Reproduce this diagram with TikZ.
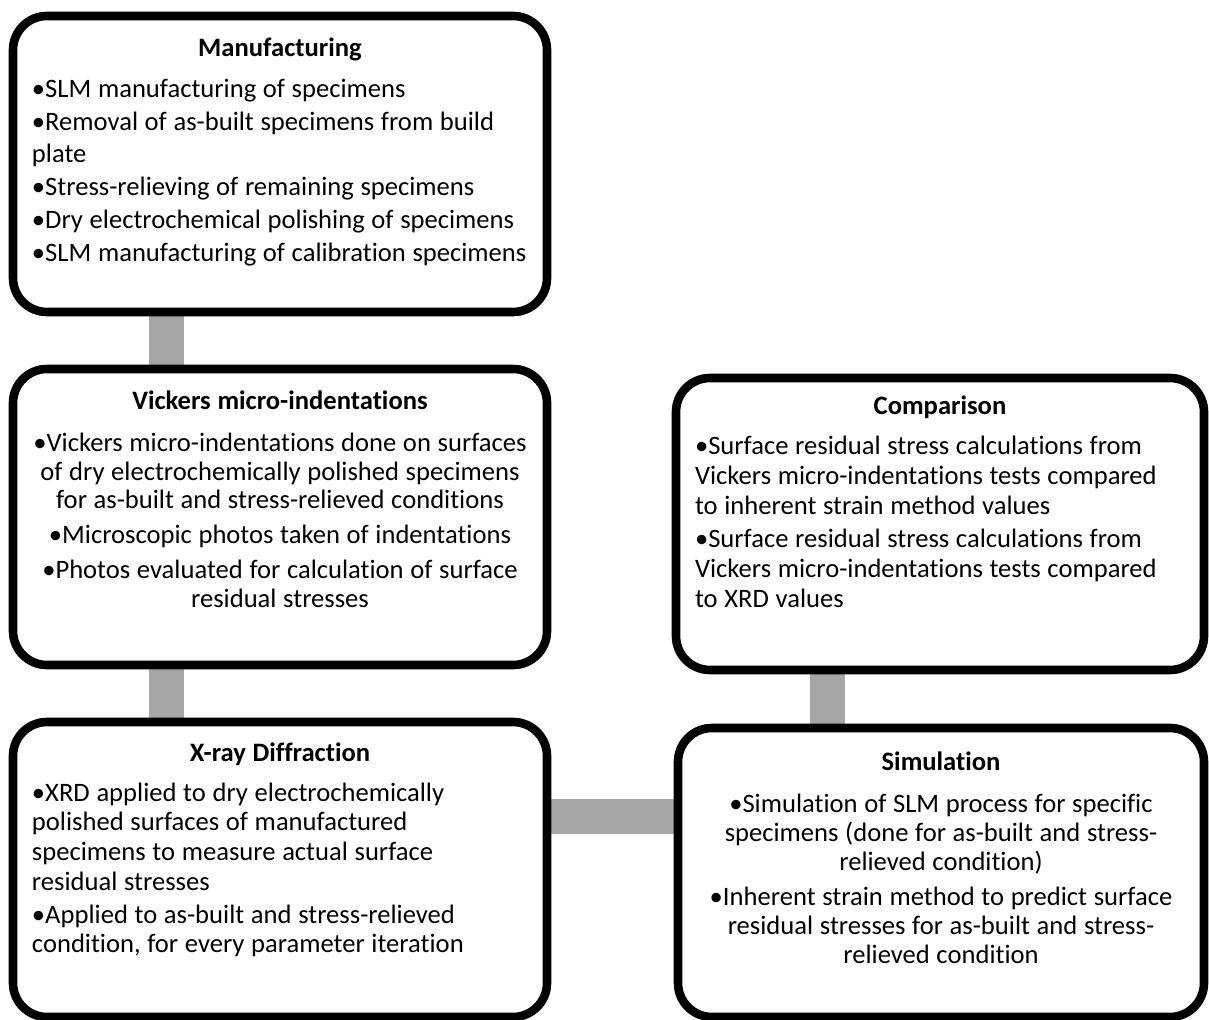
\documentclass[tikz,border=0pt]{standalone}
\usepackage{fontspec}
\setmainfont{Carlito}[Ligatures=CommonOff]
\usetikzlibrary{positioning,backgrounds,shadows}
\definecolor{linkgray}{HTML}{A6A6A6}
\newlength{\bulw}
% body of a stage box: height, baselineskip, parskip, title baseline, title, items
\newcommand{\stagebody}[6]{%
  \parbox[c][#1][t]{\linewidth}{%
    \fontsize{13.3pt}{#2}\selectfont\setlength{\parskip}{#3}%
    \settowidth{\bulw}{•}%
    {\centering\rule{0pt}{#4}\textbf{#5}\par}\vspace{3.5pt}#6}}
\newcommand{\itm}[1]{\par\raggedright\hangindent=\bulw\hangafter=1\noindent•#1\par}
\newcommand{\citm}[1]{\par\centering•#1\par}

\begin{document}
\begin{tikzpicture}[x=0.5pt,y=-0.5pt,
  stage/.style={draw,line width=4.3pt,rounded corners=17pt,fill=white,
    inner xsep=9.5pt,inner ysep=0pt,
    drop shadow={shadow xshift=1.2pt,shadow yshift=-1.2pt,opacity=0.25}},
  link/.style={draw=linkgray,line width=17.5pt}]
\useasboundingbox (0,0) rectangle (1209,1020);
\node[stage,text width=248pt] (man) at (280,164)
  {\stagebody{148pt}{16pt}{0.6pt}{20.5pt}{Manufacturing}{%
   \itm{SLM manufacturing of specimens}
   \itm{Removal of as-built specimens from build\\plate}
   \itm{Stress-relieving of remaining specimens}
   \itm{Dry electrochemical polishing of specimens}
   \itm{SLM manufacturing of calibration specimens}}};
\node[stage,text width=248pt] (vick) at (280,517)
  {\stagebody{148pt}{14.25pt}{3.25pt}{20.5pt}{Vickers micro-indentations}{%
   \citm{Vickers micro-indentations done on surfaces\\
     of dry electrochemically polished specimens\\
     for as-built and stress-relieved conditions}
   \citm{Microscopic photos taken of indentations}
   \citm{Photos evaluated for calculation of surface\\residual stresses}}};
\node[stage,text width=248pt] (xrd) at (280,869.5)
  {\stagebody{147.5pt}{14.85pt}{1.65pt}{19.5pt}{X-ray Diffraction}{%
   \itm{XRD applied to dry electrochemically\\
     polished surfaces of manufactured\\
     specimens to measure actual surface\\
     residual stresses}
   \itm{Applied to as-built and stress-relieved\\
     condition, for every parameter iteration}}};
\node[stage,text width=245pt] (comp) at (940,524)
  {\stagebody{146pt}{15pt}{1.5pt}{18.5pt}{Comparison}{%
   \itm{Surface residual stress calculations from\\
     Vickers micro-indentations tests compared\\
     to inherent strain method values}
   \itm{Surface residual stress calculations from\\
     Vickers micro-indentations tests compared\\
     to XRD values}}};
\node[stage,text width=244pt] (sim) at (941,872.5)
  {\stagebody{144.5pt}{14.5pt}{3pt}{21pt}{Simulation}{%
   \citm{Simulation of SLM process for specific\\
     specimens (done for as-built and stress-\\
     relieved condition)}
   \citm{Inherent strain method to predict surface\\
     residual stresses for as-built and stress-\\
     relieved condition}}};
\begin{scope}[on background layer]
\draw[link] ([xshift=-56.75pt]man.center) -- ([xshift=-56.75pt]vick.center);
\draw[link] ([xshift=-56.75pt]vick.center) -- ([xshift=-56.75pt]xrd.center);
\draw[link] ([xshift=-56.25pt]comp.center) -- ([xshift=-56.25pt]comp.center |- sim.center);
\draw[link] ([yshift=26.5pt]xrd.center) -- ([yshift=26.5pt]xrd.center -| sim.center);
\end{scope}
\end{tikzpicture}
\end{document}
